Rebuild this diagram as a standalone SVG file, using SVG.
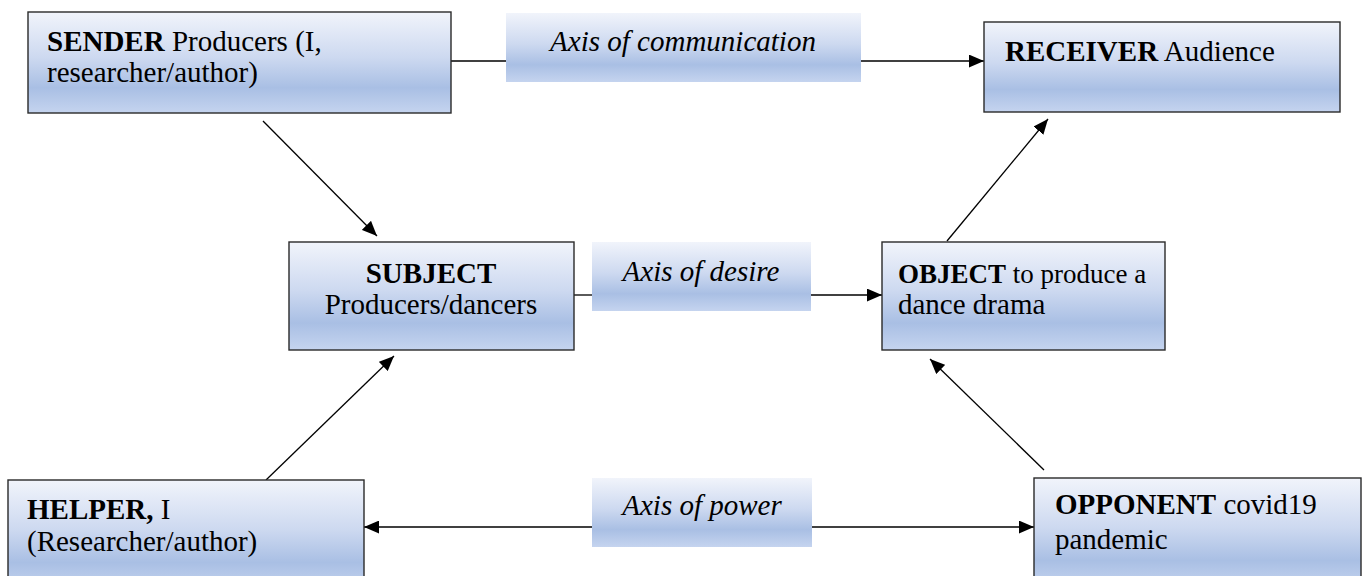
<svg xmlns="http://www.w3.org/2000/svg" width="1368" height="576" viewBox="0 0 1368 576">
<defs>
<linearGradient id="g" x1="0" y1="0" x2="0" y2="1">
<stop offset="0" stop-color="#f1f4fb"/>
<stop offset="0.45" stop-color="#cdd9f0"/>
<stop offset="0.75" stop-color="#a9bfe4"/>
<stop offset="1" stop-color="#c5d4ef"/>
</linearGradient>
<marker id="ah" viewBox="0 0 14 12" refX="14" refY="6" markerWidth="15" markerHeight="13" markerUnits="userSpaceOnUse" orient="auto">
<path d="M0,0 L14,6 L0,12 Z" fill="#000"/>
</marker>
<style>
.box{fill:url(#g);stroke:#2a2a2a;stroke-width:1.4}
.axis{fill:url(#g);stroke:none}
text{font-family:'Liberation Serif','Times New Roman',serif;font-size:29px;fill:#000}
.b{font-weight:bold}
.i{font-style:italic}
.sm{font-size:27px}
.c{stroke:#000;stroke-width:1.3;fill:none}
</style>
</defs>
<g id="connectors">
<line class="c" x1="451" y1="61" x2="506" y2="61"/>
<line class="c" x1="861" y1="61" x2="984" y2="61" marker-end="url(#ah)"/>
<line class="c" x1="574" y1="295" x2="592" y2="295"/>
<line class="c" x1="811" y1="295" x2="882" y2="295" marker-end="url(#ah)"/>
<line class="c" x1="592" y1="527" x2="364" y2="527" marker-end="url(#ah)"/>
<line class="c" x1="812" y1="527" x2="1034" y2="527" marker-end="url(#ah)"/>
<line class="c" x1="263" y1="121" x2="377" y2="236" marker-end="url(#ah)"/>
<line class="c" x1="266" y1="480" x2="394" y2="356" marker-end="url(#ah)"/>
<line class="c" x1="947" y1="241" x2="1048" y2="119" marker-end="url(#ah)"/>
<line class="c" x1="1044" y1="470" x2="930" y2="359" marker-end="url(#ah)"/>
</g>
<g id="sender">
<rect class="box" x="28" y="12" width="423" height="101"/>
<text x="47" y="51"><tspan class="b">SENDER</tspan> Producers (I,</text>
<text x="47" y="82">researcher/author)</text>
</g>
<g id="axis-communication">
<rect class="axis" x="506" y="13" width="355" height="69"/>
<text class="i" x="683" y="51" text-anchor="middle">Axis of communication</text>
</g>
<g id="receiver">
<rect class="box" x="984" y="22" width="356" height="90"/>
<text x="1005" y="61"><tspan class="b">RECEIVER</tspan> Audience</text>
</g>
<g id="subject">
<rect class="box" x="289" y="242" width="285" height="108"/>
<text class="b" x="431" y="283" text-anchor="middle">SUBJECT</text>
<text x="431" y="314" text-anchor="middle">Producers/dancers</text>
</g>
<g id="axis-desire">
<rect class="axis" x="592" y="242" width="219" height="69"/>
<text class="i" x="701" y="281" text-anchor="middle">Axis of desire</text>
</g>
<g id="object">
<rect class="box" x="882" y="242" width="283" height="108"/>
<text class="sm" x="898" y="283"><tspan class="b">OBJECT</tspan> to produce a</text>
<text x="898" y="314">dance drama</text>
</g>
<g id="helper">
<rect class="box" x="8" y="480" width="356" height="110"/>
<text x="27" y="519"><tspan class="b">HELPER,</tspan> I</text>
<text x="27" y="551">(Researcher/author)</text>
</g>
<g id="axis-power">
<rect class="axis" x="592" y="478" width="220" height="69"/>
<text class="i" x="702" y="515" text-anchor="middle">Axis of power</text>
</g>
<g id="opponent">
<rect class="box" x="1034" y="478" width="327" height="110"/>
<text x="1055" y="514"><tspan class="b">OPPONENT</tspan> covid19</text>
<text x="1055" y="549">pandemic</text>
</g>
</svg>
